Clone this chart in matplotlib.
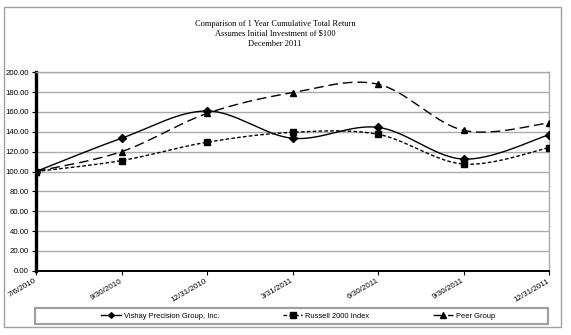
import numpy as np
import matplotlib
matplotlib.use("Agg")
import matplotlib.pyplot as plt
from matplotlib.lines import Line2D
from matplotlib.patches import Rectangle
from matplotlib.transforms import ScaledTranslation

# Cumulative total return, $100 invested on 7/6/2010
dates = ["7/6/2010", "9/30/2010", "12/31/2010", "3/31/2011",
         "6/30/2011", "9/30/2011", "12/31/2011"]
vishay = [100.0, 133.5, 161.0, 133.5, 144.5, 112.5, 137.0]
russell = [100.0, 111.0, 129.5, 139.5, 137.5, 107.5, 124.0]
peer = [100.0, 120.0, 158.5, 179.5, 188.0, 141.5, 149.0]
series_names = ["Vishay Precision Group, Inc.", "Russell 2000 Index", "Peer Group"]
y_ticks = [0, 20, 40, 60, 80, 100, 120, 140, 160, 180, 200]
title_lines = ["Comparison of 1 Year Cumulative Total Return",
               "Assumes Initial Investment of $100",
               "December 2011"]

W, H = 571, 335


def smooth(xs, ys, n=40):
    """Bezier smoothing through every point (spreadsheet-style smoothed line)."""
    p = np.column_stack([xs, ys]).astype(float)
    m = len(p)
    out = [p[0]]
    for i in range(m - 1):
        pm = p[i - 1] if i > 0 else p[i]
        pn = p[i + 2] if i + 2 < m else p[i + 1]
        c1 = p[i] + (p[i + 1] - pm) / 6.0
        c2 = p[i + 1] - (pn - p[i]) / 6.0
        t = np.linspace(0, 1, n)[1:, None]
        seg = ((1 - t) ** 3) * p[i] + 3 * ((1 - t) ** 2) * t * c1 \
            + 3 * (1 - t) * t ** 2 * c2 + t ** 3 * p[i + 1]
        out.extend(seg)
    out = np.array(out)
    return out[:, 0], out[:, 1]


fig = plt.figure(figsize=(W / 100, H / 100), dpi=100)
fig.patch.set_facecolor("white")

# outer chart border
fig.add_artist(Rectangle((4 / W, 1 - 327 / H), 557 / W, 320 / H,
                         transform=fig.transFigure, fill=False,
                         edgecolor="#a0a0a0", lw=1.0))

ax = fig.add_axes([36 / W, 1 - 270.7 / H, (549 - 36) / W, (270.7 - 72.3) / H])
x = np.arange(len(dates))

styles = [
    dict(data=vishay, ls="-", marker="D", ms=3.6),
    dict(data=russell, ls=(0, (2.6, 1.6)), marker="s", ms=5.0),
    dict(data=peer, ls=(0, (7.0, 3.5)), marker="^", ms=5.0),
]
for st in styles:
    sx, sy = smooth(x, st["data"])
    ax.plot(sx, sy, color="black", lw=1.0, ls=st["ls"], zorder=3)
    ax.plot(x, st["data"], ls="none", marker=st["marker"], ms=st["ms"],
            color="black", zorder=4)

ax.set_xlim(0, len(dates) - 1)
ax.set_ylim(0, 200)
ax.set_yticks(y_ticks)
ax.set_yticklabels([f"{v:.2f}" for v in y_ticks], fontsize=5.6,
                   family="Liberation Sans")
ax.set_xticks(x)
ax.set_xticklabels(dates, fontsize=5.8, family="Liberation Sans",
                   rotation=30, ha="right", va="center",
                   rotation_mode="anchor")
shift = ScaledTranslation(6 / 100, 0, fig.dpi_scale_trans)
for lbl in ax.get_xticklabels():
    lbl.set_transform(lbl.get_transform() + shift)
ax.tick_params(axis="x", length=3, width=0.8, pad=4, color="black")
ax.tick_params(axis="y", length=3, width=0.8, pad=2, color="black")
ax.grid(axis="y", color="#ababab", lw=1.0)
ax.set_axisbelow(True)
for side in ("top", "right"):
    ax.spines[side].set_color("#ababab")
    ax.spines[side].set_linewidth(1.0)
ax.spines["left"].set_linewidth(2.4)
ax.spines["left"].set_color("black")
ax.spines["bottom"].set_linewidth(1.4)
ax.spines["bottom"].set_color("black")

# title block
for i, line in enumerate(title_lines):
    fig.text(275 / W, 1 - (23.5 + 10 * i) / H, line, ha="center", va="center",
             fontsize=6.0, family="Liberation Serif")

# legend box and entries
fig.add_artist(Rectangle((35 / W, 1 - 324 / H), 513 / W, 16 / H,
                         transform=fig.transFigure, fill=False,
                         edgecolor="#a0a0a0", lw=1.6))
handles = [Line2D([], [], color="black", lw=1.0, ls=st["ls"],
                  marker=st["marker"], ms=st["ms"] * 0.8)
           for st in styles]
fig.legend(handles, series_names, loc="center",
           bbox_to_anchor=(298 / W, 1 - 316 / H), ncol=3, frameon=False,
           prop=dict(family="Liberation Sans", size=5.4),
           handlelength=2.6, handletextpad=0.4, columnspacing=8.5,
           numpoints=1)

fig.savefig("out.png", dpi=100, facecolor="white")
